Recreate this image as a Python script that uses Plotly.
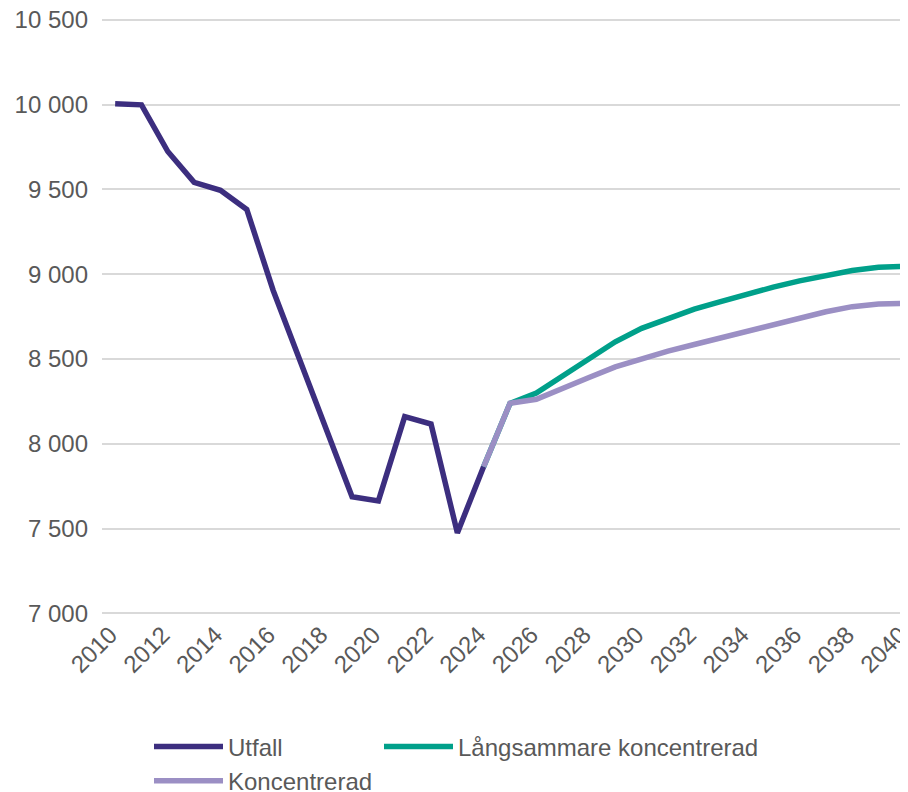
import plotly.graph_objects as go

years_utfall = list(range(2010, 2025))
utfall = [10004, 9998, 9723, 9541, 9494, 9381, 8905, 8500, 8088, 7687,
          7663, 8160, 8116, 7474, 7865]

years_scen = list(range(2024, 2041))
langsammare = [7865, 8238, 8298, 8400, 8505, 8601, 8680, 8739, 8793, 8838,
               8882, 8923, 8960, 8992, 9021, 9041, 9045]
koncentrerad = [7865, 8238, 8262, 8329, 8390, 8453, 8502, 8546, 8585, 8624,
                8664, 8706, 8743, 8778, 8808, 8824, 8828]

x_ticks = list(range(2010, 2041, 2))
y_ticks = [7000, 7500, 8000, 8500, 9000, 9500, 10000, 10500]

C_UTF = "#3C2E7F"
C_LANG = "#00A08A"
C_KONC = "#9B8FC4"
TXT = "#595959"
FONT = "Liberation Sans, Arial, sans-serif"
LW = 5.5

fig = go.Figure()
fig.add_trace(go.Scatter(x=years_utfall, y=utfall, mode="lines", name="Utfall",
                         line=dict(color=C_UTF, width=LW), legend="legend"))
fig.add_trace(go.Scatter(x=years_scen, y=langsammare, mode="lines",
                         name="Långsammare koncentrerad",
                         line=dict(color=C_LANG, width=LW), legend="legend2"))
fig.add_trace(go.Scatter(x=years_scen, y=koncentrerad, mode="lines",
                         name="Koncentrerad",
                         line=dict(color=C_KONC, width=LW), legend="legend"))

# page is offset by the 8px body margin: work in figure coordinates
W, H = 900, 784
PL = 94
PT = 10.3
PB_fig = 606.7
PH = PB_fig - PT
PW = W - PL


def leg(px, py, orient):
    return dict(orientation=orient, x=(px - PL) / PW, xanchor="left",
                y=-(py - PB_fig) / PH, yanchor="top", itemwidth=69,
                traceorder="normal",
                font=dict(size=24, color=TXT), bgcolor="rgba(0,0,0,0)")


fig.update_layout(
    width=W, height=H,
    margin=dict(l=PL, r=0, t=PT, b=H - PB_fig, autoexpand=False),
    plot_bgcolor="white", paper_bgcolor="white",
    separators=", ",
    font=dict(family=FONT, size=24, color=TXT),
    xaxis=dict(range=[2009.5, 2040.12], tickvals=x_ticks, tickangle=-45,
               showgrid=False, zeroline=False, showline=False, ticks="",
               automargin=False, ticklabeloverflow="allow", ticklabelshift=-5,
               tickfont=dict(size=24, color=TXT)),
    yaxis=dict(range=[6990, 10510], tickvals=y_ticks, tickformat=",d",
               showgrid=True, gridcolor="#D9D9D9", gridwidth=1.5,
               zeroline=False, showline=False, ticks="", ticklabelstandoff=13,
               automargin=False, ticklabeloverflow="allow",
               tickfont=dict(size=24, color=TXT)),
    legend=leg(141, 716, "v"),
    legend2=leg(371, 716, "h"),
)

fig.write_html("out.html")
